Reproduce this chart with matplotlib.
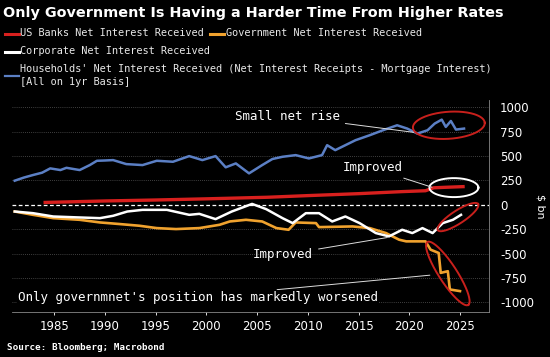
import numpy as np
import matplotlib.pyplot as plt
from matplotlib.lines import Line2D

# data ($ bn)
hh_years = [1981.1, 1982.0, 1982.9, 1983.8, 1984.6, 1985.6, 1986.2, 1987.5, 1988.5, 1989.2, 1990.0, 1990.8,
            1992.1, 1993.7, 1995.1, 1996.7, 1998.3, 1999.6, 2000.9, 2001.9, 2002.9, 2004.2, 2005.5, 2006.5,
            2007.5, 2008.8, 2010.1, 2011.4, 2011.9, 2012.7, 2013.7, 2014.7, 2016.1, 2017.4, 2018.8, 2019.8,
            2020.8, 2021.8, 2022.5, 2023.2, 2023.6, 2024.1, 2024.6, 2025.4]
hh_vals = [248, 280, 306, 330, 374, 357, 380, 357, 408, 452, 455, 459,
           418, 408, 452, 442, 500, 459, 500, 385, 425, 323, 408, 470,
           493, 510, 476, 510, 612, 561, 612, 663, 714, 765, 816, 782,
           731, 765, 833, 874, 799, 860, 772, 782]

bank_years = [1984.1, 1990, 1995, 2000, 2006, 2010, 2015, 2019.3, 2021.6, 2022.4, 2023.5, 2025.3]
bank_vals = [25, 40, 50, 62, 78, 95, 115, 136, 145, 175, 180, 187]

corp_years = [1981.1, 1982.9, 1984.9, 1987.5, 1989.5, 1990.8, 1992.2, 1993.7, 1996.1, 1998.3, 1999.3, 2000.9,
              2002.5, 2004.5, 2005.9, 2007.5, 2008.5, 2009.8, 2011.1, 2012.4, 2013.7, 2015.1, 2016.7, 2018.0,
              2019.3, 2020.3, 2021.3, 2022.3, 2023.3, 2024.3, 2025.1]
corp_vals = [-68, -85, -119, -129, -136, -112, -68, -51, -51, -102, -92, -146,
             -68, 10, -44, -136, -187, -85, -85, -170, -119, -187, -289, -323,
             -255, -289, -238, -289, -187, -153, -102]

gov_years = [1981.1, 1982.9, 1984.9, 1987.5, 1989.5, 1991.5, 1993.4, 1995.1, 1997.0, 1999.3, 2001.3, 2002.3,
             2003.9, 2005.5, 2006.9, 2008.1, 2008.8, 2010.8, 2011.1, 2014.4, 2016.1, 2017.7, 2019.0, 2019.7,
             2021.6, 2022.1, 2022.9, 2023.1, 2023.8, 2024.0, 2025.0]
gov_vals = [-68, -102, -136, -153, -180, -197, -214, -238, -248, -238, -204, -170,
            -153, -170, -238, -255, -180, -187, -228, -221, -238, -289, -357, -374,
            -374, -459, -493, -697, -680, -867, -884]

yticks = [1000, 750, 500, 250, 0, -250, -500, -750, -1000]
xticks = [1985, 1990, 1995, 2000, 2005, 2010, 2015, 2020, 2025]

BG = 'black'
mono = 'DejaVu Sans Mono'

fig = plt.figure(figsize=(5.5, 3.57), dpi=100, facecolor=BG)
ax = fig.add_axes([12/550, 1-312/357, (489-12)/550, (312-100)/357], facecolor=BG)
ax.set_xlim(1980.83, 2027.86)
ax.set_ylim(-1098, 1075)

for v in yticks:
    if v == 0:
        ax.axhline(0, color='white', ls=(0, (3, 2)), lw=0.9, zorder=1)
    else:
        ax.axhline(v, color='#555555', ls=(0, (1, 1.5)), lw=0.6, zorder=0)

ax.plot(hh_years, hh_vals, color='#5b7fc4', lw=1.8, zorder=3)
ax.plot(bank_years, bank_vals, color='#d8201e', lw=2.4, zorder=3)
ax.plot(gov_years, gov_vals, color='#f0a22e', lw=1.9, zorder=3)
ax.plot(corp_years, corp_vals, color='white', lw=1.8, zorder=4)

ax.yaxis.tick_right()
ax.set_yticks(yticks)
ax.set_yticklabels([str(v) for v in yticks])
ax.set_xticks(xticks)
ax.tick_params(colors='white', labelsize=8.5, length=2.5, width=0.6)
ax.tick_params(axis='y', length=0, pad=8)
for s in ['top', 'left']:
    ax.spines[s].set_visible(False)
ax.spines['right'].set_color('#888888')
ax.spines['bottom'].set_color('#888888')
ax.spines['right'].set_linewidth(0.6)
ax.spines['bottom'].set_linewidth(0.6)
ax.yaxis.set_label_position('right')
ax.set_ylabel('$ bn', color='white', fontsize=8, rotation=270, labelpad=8)

# ellipses drawn in pixel units, converted to data units
px_x = (2027.86 - 1980.83) / 477.0
px_y = (1075 + 1098) / 212.0
def ellipse(cx, cy, a, b, ang, color):
    t = np.linspace(0, 2*np.pi, 200)
    th = np.deg2rad(ang)
    u = a*np.cos(t)*np.cos(th) - b*np.sin(t)*np.sin(th)
    w = a*np.cos(t)*np.sin(th) + b*np.sin(t)*np.cos(th)
    ax.plot(cx + u*px_x, cy + w*px_y, color=color, lw=1.4, zorder=5)

ellipse(2023.9, 816, 36, 13.5, 4, '#c8201c')
ellipse(2024.4, 177, 24.5, 9.5, 0, 'white')
ellipse(2024.8, -125, 24, 6.5, 33, '#c8201c')
ellipse(2023.8, -703, 37.5, 9, -57, '#c8201c')

ann = dict(arrowstyle='-', color='#dddddd', lw=0.7)
txt = dict(color='white', fontsize=9, family=mono, va='center', ha='left', zorder=6)
ax.annotate('Small net rise', xy=(2020.7, 740), xytext=(2002.8, 911), arrowprops=ann, **txt)
ax.annotate('Improved', xy=(2022.5, 172), xytext=(2013.4, 378), arrowprops=ann, **txt)
ax.annotate('Improved', xy=(2018.1, -330), xytext=(2004.6, -513), arrowprops=ann, **txt)
ax.annotate("Only governmnet's position has markedly worsened", xy=(2022.3, -718),
            xytext=(1981.4, -946), arrowprops=ann,
            bbox=dict(facecolor=BG, edgecolor='none', pad=0.5), **txt)

# title and legend
fig.text(3/550, 1-13/357, 'Only Government Is Having a Harder Time From Higher Rates',
         color='white', fontsize=10.4, fontweight='bold', va='center', ha='left')

def swatch(x0, y, color, lw=2.2):
    fig.add_artist(Line2D([x0/550, (x0+14)/550], [1-y/357, 1-y/357], color=color, lw=lw))

leg = dict(color='#e8e8e8', fontsize=7.4, family=mono, va='center', ha='left')
swatch(5, 33.5, '#d8201e')
fig.text(20.5/550, 1-33.5/357, 'US Banks Net Interest Received', **leg)
swatch(210, 33.5, '#f0a22e')
fig.text(225.5/550, 1-33.5/357, 'Government Net Interest Received', **leg)
swatch(5, 51.5, 'white')
fig.text(20.5/550, 1-51.5/357, 'Corporate Net Interest Received', **leg)
swatch(5, 76, '#5b7fc4', lw=1.6)
fig.text(20.5/550, 1-69.5/357,
         "Households' Net Interest Received (Net Interest Receipts - Mortgage Interest)", **leg)
fig.text(20.5/550, 1-82/357, '[All on 1yr Basis]', **leg)

fig.text(7/550, 1-348/357, 'Source: Bloomberg; Macrobond', color='white', fontsize=6.7,
         family=mono, fontweight='bold', va='center', ha='left')

fig.savefig('out.png', dpi=100, facecolor=BG)
